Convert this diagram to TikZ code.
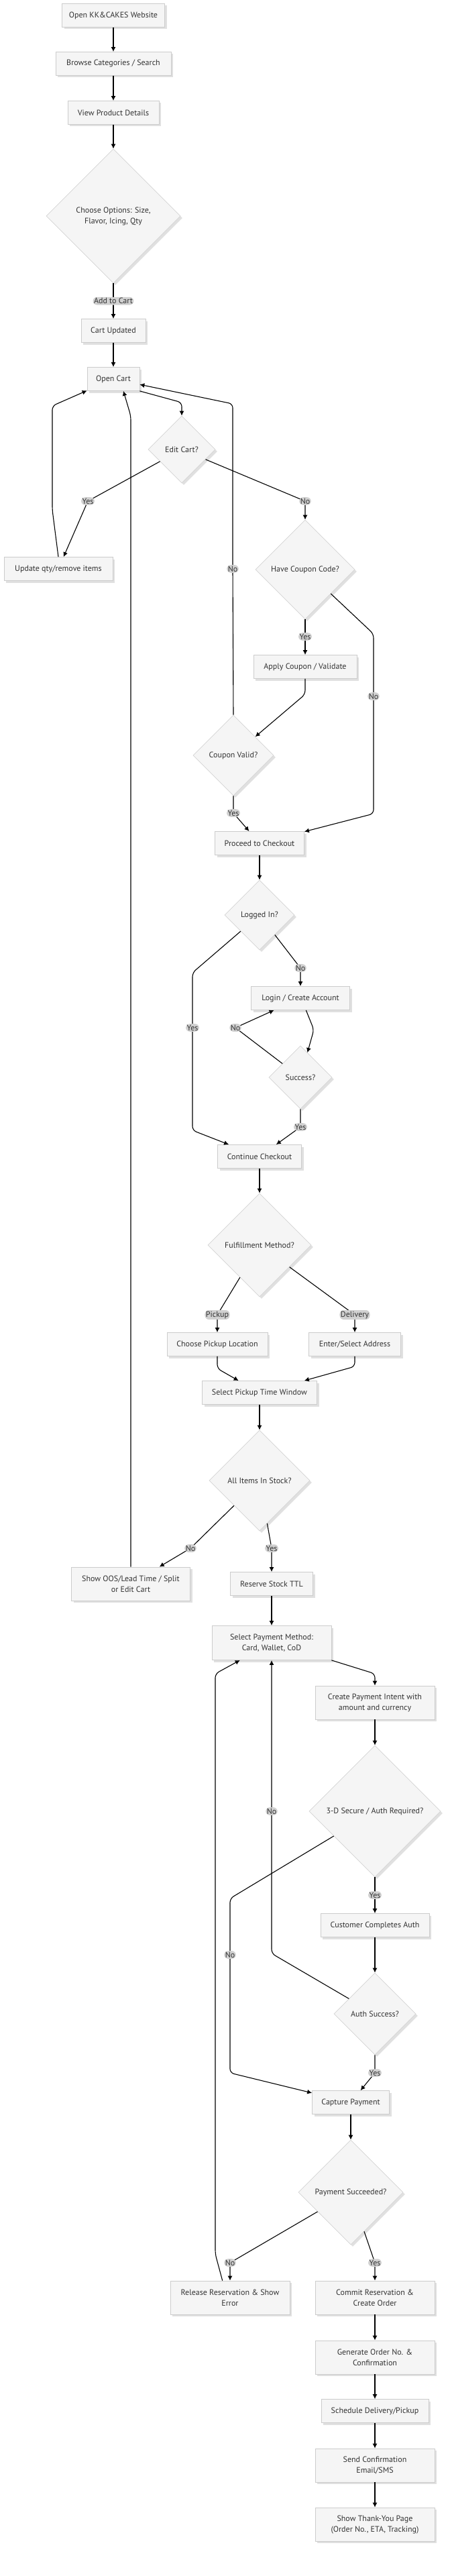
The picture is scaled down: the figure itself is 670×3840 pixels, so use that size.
\documentclass[tikz,border=0pt]{standalone}
\usepackage{fontspec}
\setmainfont{PT Sans}
\usetikzlibrary{arrows,arrows.meta,shapes.geometric,shadows}

\definecolor{boxfill}{HTML}{F5F5F5}
\definecolor{boxline}{HTML}{CCCCCC}
\definecolor{decline}{HTML}{D4D4D4}
\definecolor{lblfill}{HTML}{D0D0D0}
\definecolor{txt}{HTML}{333333}

\tikzset{
	box/.style={rectangle, draw=boxline, line width=0.8pt, fill=boxfill, text=txt,
		minimum width=#1, minimum height=35pt, inner sep=2pt, align=center,
		drop shadow={shadow xshift=3pt, shadow yshift=-3pt, fill=black!12, opacity=1}},
	box/.default=150pt,
	dec/.style={diamond, aspect=1, draw=decline, line width=0.6pt, fill=boxfill, text=txt,
		minimum width=#1, minimum height=#1, inner sep=0pt, align=center,
		drop shadow={shadow xshift=3pt, shadow yshift=-3pt, fill=black!12, opacity=1}},
	lbl/.style={fill=lblfill, text=txt, inner sep=1.5pt},
	arr/.style={->, >={Latex[length=7pt,width=7pt]}, line width=1.1pt, rounded corners=6pt},
}

\begin{document}
\begin{tikzpicture}[x=1pt, y=-1pt, font=\fontsize{12}{16}\selectfont]
	\useasboundingbox (0,0) rectangle (670,3840);
	% shop and cart
	\node[box=153pt] (0) at (169,23) {Open KK\&CAKES Website};
	\node[box=172pt] (1) at (169,95) {Browse Categories / Search};
	\node[box=136pt] (2) at (169,168) {View Product Details};
	\node[dec=200pt] (3) at (169,322) {Choose Options: Size,\\Flavor, Icing, Qty};
	\node[box=96pt] (4) at (169,493) {Cart Updated};
	\node[box=78pt] (5) at (169,565) {Open Cart};
	\node[dec=100pt] (6) at (271,670) {Edit Cart?};
	\node[box=162pt] (7) at (87,848) {Update qty/remove items};
	\node[dec=148pt] (8) at (455,849) {Have Coupon Code?};
	\node[box=154pt] (9) at (455,994) {Apply Coupon / Validate};
	\node[dec=120pt] (10) at (348,1126) {Coupon Valid?};
	% checkout
	\node[box=133pt] (11) at (387,1257) {Proceed to Checkout};
	\node[dec=104pt] (12) at (387,1364) {Logged In?};
	\node[box=147pt] (13) at (448,1488) {Login / Create Account};
	\node[dec=94pt] (14) at (448,1606) {Success?};
	\node[box=125pt] (15) at (387,1724) {Continue Checkout};
	\node[dec=154pt] (16) at (387,1856) {Fulfillment Method?};
	\node[box=150pt] (17) at (324,2004) {Choose Pickup Location};
	\node[box=137pt] (18) at (529,2004) {Enter/Select Address};
	\node[box=171pt] (19) at (387,2076) {Select Pickup Time Window};
	\node[dec=150pt] (20) at (387,2207) {All Items In Stock?};
	\node[box=177pt, minimum height=50pt] (21) at (195,2361) {Show OOS/Lead Time / Split\\or Edit Cart};
	\node[box=123pt] (22) at (405,2361) {Reserve Stock TTL};
	% payment
	\node[box=178pt, minimum height=51pt] (23) at (405,2449) {Select Payment Method:\\Card, Wallet, CoD};
	\node[box=178pt, minimum height=50pt] (24) at (559,2538) {Create Payment Intent with\\amount and currency};
	\node[dec=196pt] (25) at (559,2700) {3-D Secure / Auth Required?};
	\node[box=162pt] (26) at (559,2870) {Customer Completes Auth};
	\node[dec=122pt] (27) at (559,3002) {Auth Success?};
	\node[box=115pt] (28) at (523,3134) {Capture Payment};
	\node[dec=156pt] (29) at (523,3268) {Payment Succeeded?};
	\node[box=178pt, minimum height=50pt] (30) at (343,3425) {Release Reservation \& Show\\Error};
	\node[box=178pt, minimum height=50pt] (31) at (559,3425) {Commit Reservation \&\\Create Order};
	\node[box=178pt, minimum height=50pt] (32) at (559,3514) {Generate Order No. \&\\Confirmation};
	\node[box=160pt] (33) at (559,3594) {Schedule Delivery/Pickup};
	\node[box=178pt, minimum height=50pt] (34) at (559,3675) {Send Confirmation\\Email/SMS};
	\node[box=178pt, minimum height=50pt] (35) at (559,3763) {Show Thank-You Page\\(Order No., ETA, Tracking)};

	\draw[arr] (0)--(1);
	\draw[arr] (1)--(2);
	\draw[arr] (2)--(3);
	\draw[arr] (3)--(4) node[lbl, midway]{Add to Cart};
	\draw[arr] (4)--(5);
	\draw[arr] (5.south east)--(271,600)--(6.north);
	\draw[arr] (6)--(131,747) node[lbl]{Yes}--(7);
	\draw[arr] (6)--(455,747) node[lbl]{No}--(8);
	\draw[arr] (7.north)--(78,760)--(78,605)--(5);
	\draw[arr] (8)--(455,949) node[lbl]{Yes}--(9);
	\draw[arr] (8)--(557,945)--(557,1038) node[lbl]{No}--(557,1213)--(11);
	\draw[arr] (9)--(455,1035)--(10);
	\draw[arr] (10)--(348,1212) node[lbl]{Yes}--(11);
	\draw[arr] (10.north)--(347,848) node[lbl]{No}--(347,602)--(5);
	\draw[arr] (11)--(12);
	\draw[arr] (12)--(287,1450)--(287,1532) node[lbl]{Yes}--(287,1685)--(15);
	\draw[arr] (12)--(448,1443) node[lbl]{No}--(13);
	\draw[arr] (13.-65)--(468,1535)--(14);
	\draw[arr] (14)--(351,1532) node[lbl]{No}--(13);
	\draw[arr] (14)--(448,1680) node[lbl]{Yes}--(15);
	\draw[arr] (15)--(16);
	\draw[arr] (16)--(324,1960) node[lbl]{Pickup}--(17);
	\draw[arr] (16)--(529,1960) node[lbl]{Delivery}--(18);
	\draw[arr] (17)--(324,2040)--(19);
	\draw[arr] (18)--(529,2037)--(19.15);
	\draw[arr] (19)--(20);
	\draw[arr] (20)--(284,2308) node[lbl]{No}--(21);
	\draw[arr] (20)--(405,2308) node[lbl]{Yes}--(22);
	\draw[arr] (21.north)--(195,620)--(5.-50);
	\draw[arr] (22)--(23);
	\draw[arr] (23.south east)--(559,2495)--(24);
	\draw[arr] (24)--(25);
	\draw[arr] (25)--(559,2825) node[lbl]{Yes}--(26);
	\draw[arr] (25)--(343,2830)--(343,2914) node[lbl]{No}--(343,3090)--(28);
	\draw[arr] (26)--(27);
	\draw[arr] (27)--(405,2912)--(405,2700) node[lbl]{No}--(23);
	\draw[arr] (27)--(559,3090) node[lbl]{Yes}--(28);
	\draw[arr] (28)--(29);
	\draw[arr] (29)--(343,3373) node[lbl]{No}--(30);
	\draw[arr] (29)--(559,3373) node[lbl]{Yes}--(31);
	\draw[arr] (30.114)--(321,3360)--(321,2495)--(23);
	\draw[arr] (31)--(32);
	\draw[arr] (32)--(33);
	\draw[arr] (33)--(34);
	\draw[arr] (34)--(35);
\end{tikzpicture}
\end{document}
